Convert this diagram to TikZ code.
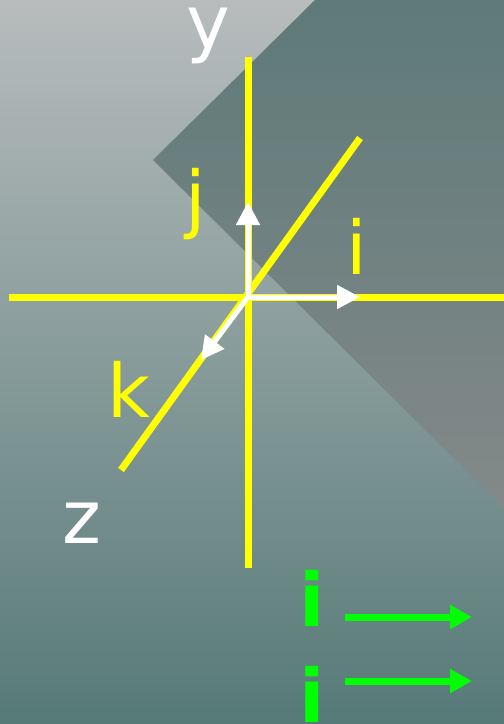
\documentclass[tikz,border=0pt]{standalone}
\usepackage{fontspec}
\setmainfont{DejaVu Sans}
\usetikzlibrary{arrows.meta}
\definecolor{bgtop}{RGB}{184,188,189}
\definecolor{bgbot}{RGB}{86,122,120}
\definecolor{dktop}{RGB}{94,122,121}
\definecolor{dkbot}{RGB}{132,137,137}
\definecolor{axisyellow}{RGB}{255,255,0}
\definecolor{vecgreen}{RGB}{0,255,0}
\begin{document}
\begin{tikzpicture}[x=1pt,y=-1pt,
  axisline/.style={draw=axisyellow,line width=7pt},
  unitvec/.style={draw=white,line width=5pt,-{Triangle[width=23pt,length=23pt]}},
  greenvec/.style={draw=vecgreen,line width=7pt,-{Triangle[width=23pt,length=22pt]}},
  lbl/.style={font=\fontsize{74}{74}\selectfont,inner sep=0pt,anchor=base},
  glbl/.style={font=\fontsize{74}{74}\selectfont\bfseries,inner sep=0pt,anchor=base,text=vecgreen}
]
\useasboundingbox (0,0) rectangle (504,724);
\shade[top color=bgtop,bottom color=bgbot] (0,0) rectangle (504,724);
\shade[top color=dktop,bottom color=dkbot] (315,0) -- (153,160) -- (504,508) -- (504,0) -- cycle;

\coordinate (O) at (248,297);
\coordinate (ytop) at (248,57);
\coordinate (ybot) at (248,568);
\coordinate (xleft) at (9,297);
\coordinate (xright) at (504,297);
\coordinate (ztop) at (360,138);
\coordinate (zbot) at (121,470);
\coordinate (jtip) at (248,202);
\coordinate (itip) at (360,297);
\coordinate (ktip) at (201,360);

\draw[axisline] (ytop) -- (ybot);
\draw[axisline] (xleft) -- (xright);
\draw[axisline] (ztop) -- (zbot);

\draw[unitvec] (O) -- (jtip);
\draw[unitvec] (O) -- (itip);
\draw[unitvec] (O) -- (ktip);

\node[lbl,text=white] (ylab) at (208,48) {y};
\node[lbl,text=axisyellow] (jlab) at (196,224) {j};
\node[lbl,text=axisyellow] (ilab) at (357,274) {i};
\node[lbl,text=axisyellow] (klab) at (129,417) {k};
\node[lbl,text=white] (zlab) at (82,543) {z};

\node[glbl] (gi1) at (312,626) {i};
\node[glbl] (gi2) at (312,722) {i};
\coordinate (g1s) at (345,617);
\coordinate (g1e) at (472,617);
\coordinate (g2s) at (345,681);
\coordinate (g2e) at (472,681);
\draw[greenvec] (g1s) -- (g1e);
\draw[greenvec] (g2s) -- (g2e);
\end{tikzpicture}
\end{document}
